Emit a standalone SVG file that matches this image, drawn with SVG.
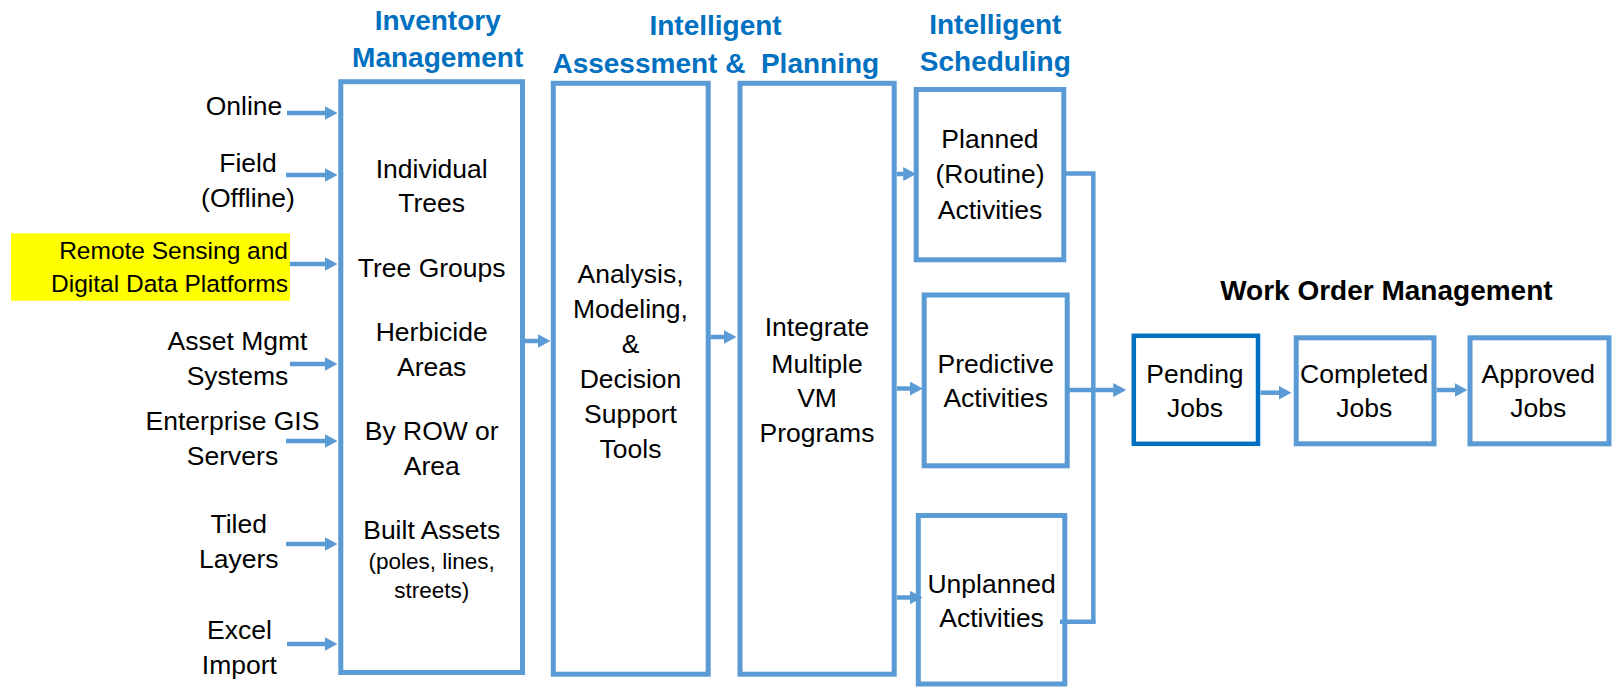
<svg xmlns="http://www.w3.org/2000/svg" width="1616" height="687" viewBox="0 0 1616 687">
  <style>
    .box { fill: #ffffff; stroke: #5B9BD5; stroke-width: 5; }
    .box-dark { fill: #ffffff; stroke: #0070C0; stroke-width: 4.5; }
    .t { font-family: "Liberation Sans", Arial, sans-serif; font-size: 26.5px; fill: #000000; text-anchor: middle; }
    .small { font-size: 22.5px; }
    .title { font-family: "Liberation Sans", Arial, sans-serif; font-size: 28px; font-weight: bold; fill: #0070C0; text-anchor: middle; }
    .heading { font-family: "Liberation Sans", Arial, sans-serif; font-size: 28px; font-weight: bold; fill: #000000; text-anchor: middle; }
    .src { font-family: "Liberation Sans", Arial, sans-serif; font-size: 26.5px; fill: #000000; text-anchor: middle; }
    .link { fill: none; stroke: #5B9BD5; stroke-width: 4.5; }
    .arrow { fill: none; stroke: #5B9BD5; stroke-width: 4.5; marker-end: url(#head); }
  </style>
  <defs>
    <marker id="head" markerUnits="userSpaceOnUse" markerWidth="14" markerHeight="15" refX="0.5" refY="7" orient="auto">
      <path d="M0,0 L13,7 L0,14 Z" fill="#5B9BD5"/>
    </marker>
  </defs>

  <rect width="1616" height="687" fill="#ffffff"/>

  <!-- column headings -->
  <g id="headings">
    <text class="title" x="437.7" y="30">Inventory</text>
    <text class="title" x="437.7" y="66.7">Management</text>
    <text class="title" x="715.6" y="35">Intelligent</text>
    <text class="title" x="715.8" y="73.3" xml:space="preserve">Assessment &amp;  Planning</text>
    <text class="title" x="995.3" y="33.8">Intelligent</text>
    <text class="title" x="995.3" y="71.3">Scheduling</text>
    <text class="heading" x="1386.4" y="300">Work Order Management</text>
  </g>

  <!-- data sources -->
  <g id="src-online">
    <text class="src" x="244" y="115">Online</text>
  </g>
  <g id="src-field">
    <text class="src" x="248" y="171.7">Field</text>
    <text class="src" x="248" y="206.5">(Offline)</text>
  </g>
  <g id="src-remote">
    <rect x="11" y="233.3" width="279" height="67.4" fill="#FFFF00"/>
    <text class="src" x="288" y="259.3" style="text-anchor:end;font-size:24.5px">Remote Sensing and</text>
    <text class="src" x="288" y="291.7" style="text-anchor:end;font-size:24.5px">Digital Data Platforms</text>
  </g>
  <g id="src-asset">
    <text class="src" x="237.5" y="350">Asset Mgmt</text>
    <text class="src" x="237.5" y="385">Systems</text>
  </g>
  <g id="src-gis">
    <text class="src" x="232.5" y="430">Enterprise GIS</text>
    <text class="src" x="232.5" y="465">Servers</text>
  </g>
  <g id="src-tiled">
    <text class="src" x="238.7" y="533.3">Tiled</text>
    <text class="src" x="238.7" y="568.3">Layers</text>
  </g>
  <g id="src-excel">
    <text class="src" x="239.4" y="639.3">Excel</text>
    <text class="src" x="239.4" y="674">Import</text>
  </g>

  <!-- inventory management -->
  <g id="inventory">
    <rect class="box" x="340.8" y="81.7" width="181.7" height="590.8"/>
    <text class="t" x="431.7" y="178.3">Individual</text>
    <text class="t" x="431.7" y="212.3">Trees</text>
    <text class="t" x="431.7" y="276.7">Tree Groups</text>
    <text class="t" x="431.7" y="340.5">Herbicide</text>
    <text class="t" x="431.7" y="376">Areas</text>
    <text class="t" x="431.7" y="440">By ROW or</text>
    <text class="t" x="431.7" y="475">Area</text>
    <text class="t" x="431.7" y="539.3">Built Assets</text>
    <text class="t small" x="431.7" y="569.3">(poles, lines,</text>
    <text class="t small" x="431.7" y="598.3">streets)</text>
  </g>

  <!-- assessment -->
  <g id="analysis">
    <rect class="box" x="553.3" y="83.3" width="154.9" height="590.9"/>
    <text class="t" x="630.5" y="283.3">Analysis,</text>
    <text class="t" x="630.5" y="318.3">Modeling,</text>
    <text class="t" x="630.5" y="353.3">&amp;</text>
    <text class="t" x="630.5" y="388.3">Decision</text>
    <text class="t" x="630.5" y="423.3">Support</text>
    <text class="t" x="630.5" y="458.3">Tools</text>
  </g>

  <!-- planning -->
  <g id="integrate">
    <rect class="box" x="740" y="83.3" width="154.2" height="590.9"/>
    <text class="t" x="817" y="336">Integrate</text>
    <text class="t" x="817" y="372.5">Multiple</text>
    <text class="t" x="817" y="407">VM</text>
    <text class="t" x="817" y="442">Programs</text>
  </g>

  <!-- scheduling -->
  <g id="planned">
    <rect class="box" x="916.2" y="89.5" width="147.6" height="170.3"/>
    <text class="t" x="990" y="148.3">Planned</text>
    <text class="t" x="990" y="183.3">(Routine)</text>
    <text class="t" x="990" y="219.3">Activities</text>
  </g>
  <g id="predictive">
    <rect class="box" x="924.2" y="295" width="143" height="170.8"/>
    <text class="t" x="995.7" y="372.7">Predictive</text>
    <text class="t" x="995.7" y="407.3">Activities</text>
  </g>
  <g id="unplanned">
    <rect class="box" x="918.3" y="515.5" width="146.5" height="168.5"/>
    <text class="t" x="991.6" y="592.7">Unplanned</text>
    <text class="t" x="991.6" y="627.3">Activities</text>
  </g>

  <!-- work orders -->
  <g id="pending">
    <rect class="box-dark" x="1133.8" y="335.8" width="124.2" height="108"/>
    <text class="t" x="1195" y="383">Pending</text>
    <text class="t" x="1195" y="417">Jobs</text>
  </g>
  <g id="completed">
    <rect class="box" x="1296.2" y="337.8" width="137.8" height="106"/>
    <text class="t" x="1364.2" y="383">Completed</text>
    <text class="t" x="1364.2" y="417">Jobs</text>
  </g>
  <g id="approved">
    <rect class="box" x="1470" y="337.8" width="139" height="106"/>
    <text class="t" x="1538.3" y="383">Approved</text>
    <text class="t" x="1538.3" y="417">Jobs</text>
  </g>

  <!-- connectors -->
  <g id="connectors">
    <path class="arrow" d="M287,113 H325"/>
    <path class="arrow" d="M286,175 H325"/>
    <path class="arrow" d="M290,264 H325"/>
    <path class="arrow" d="M290,364 H325"/>
    <path class="arrow" d="M286,441 H325"/>
    <path class="arrow" d="M286,544 H325"/>
    <path class="arrow" d="M287,644 H325"/>

    <path class="arrow" d="M525,341 H538"/>
    <path class="arrow" d="M710.5,337 H724"/>

    <path class="arrow" d="M896.7,174 H903.7"/>
    <path class="arrow" d="M896.7,388.5 H910.3"/>
    <path class="arrow" d="M896.7,597.5 H910"/>

    <path class="link" d="M1066,173.5 H1093.3 V623.5"/>
    <path class="link" d="M1060,621.7 H1095.5"/>
    <path class="arrow" d="M1067,390 H1113.7"/>

    <path class="arrow" d="M1260.5,392.7 H1279"/>
    <path class="arrow" d="M1436.6,390 H1455"/>
  </g>
</svg>
